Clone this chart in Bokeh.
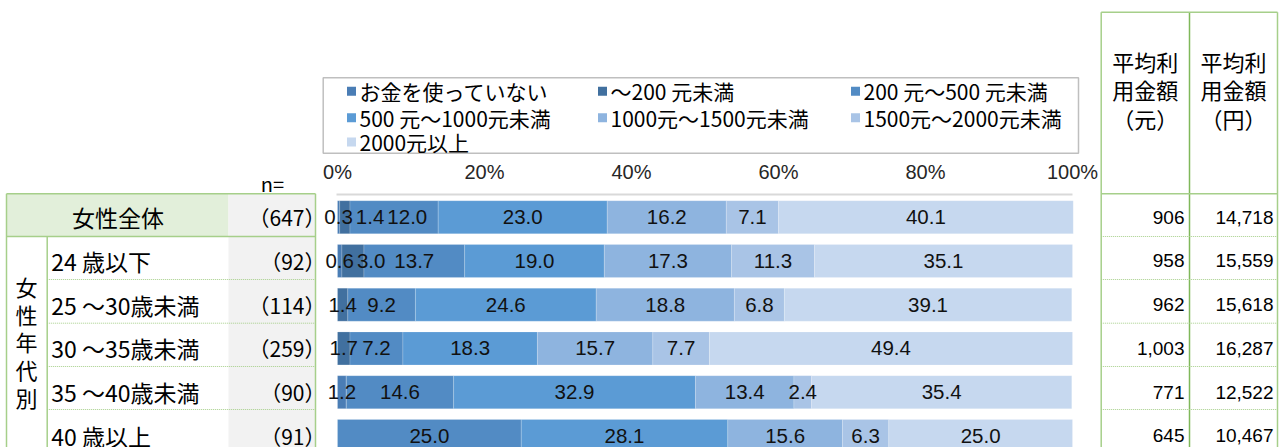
from bokeh.plotting import figure
from bokeh.models import Range1d, ColumnDataSource
from bokeh.core.properties import value
from bokeh.embed import file_html
from bokeh.resources import INLINE

# ---------------- data ----------------
segments = ["お金を使っていない", "～200 元未満", "200 元～500 元未満",
            "500 元～1000元未満", "1000元～1500元未満", "1500元～2000元未満", "2000元以上"]
groups = ["女性全体", "24 歳以下", "25 ～30歳未満", "30 ～35歳未満", "35 ～40歳未満", "40 歳以上"]
n_counts = ["（647）", "（92）", "（114）", "（259）", "（90）", "（91）"]
no_spend   = [0.3, 0.6, 0.0, 0.0, 1.2, 0.0]
under_200  = [1.4, 3.0, 1.4, 1.7, 0.0, 0.0]
r200_500   = [12.0, 13.7, 9.2, 7.2, 14.6, 25.0]
r500_1000  = [23.0, 19.0, 24.6, 18.3, 32.9, 28.1]
r1000_1500 = [16.2, 17.3, 18.8, 15.7, 13.4, 15.6]
r1500_2000 = [7.1, 11.3, 6.8, 7.7, 2.4, 6.3]
over_2000  = [40.1, 35.1, 39.1, 49.4, 35.4, 25.0]
avg_yuan = ["906", "958", "962", "1,003", "771", "645"]
avg_yen = ["14,718", "15,559", "15,618", "16,287", "12,522", "10,467"]
ticks = [0, 20, 40, 60, 80, 100]
tick_labels = ["0%", "20%", "40%", "60%", "80%", "100%"]
side_label = "女\n性\n年\n代\n別"
n_header = "n="
avg_headers = ["平均利\n用金額\n（元）", "平均利\n用金額\n（円）"]

series = [no_spend, under_200, r200_500, r500_1000, r1000_1500, r1500_2000, over_2000]
colors = ["#4a7db5", "#41709f", "#528bc4", "#5b9bd5", "#8eb4df", "#a9c4e6", "#c6d8ef"]
keys = ["s%d" % i for i in range(len(series))]

# ---------------- layout helpers (page pixels -> data units) ----------------
W, H = 1280, 447
K = 7.35      # px per percent
X0 = 337.0    # page x of 0%
S = 43.75     # px per row
Y0 = 216.7    # page y of first row centre


def dx(X):
    return (X - X0) / K


def dy(Y):
    return (Y - Y0) / S


JP = value("Noto Sans CJK JP")
LAT = value("Liberation Sans")

p = figure(width=W, height=H, output_backend="svg", toolbar_location=None,
           x_range=Range1d(dx(0), dx(W)), y_range=Range1d(dy(H), dy(0)),
           x_axis_location=None, y_axis_location=None, min_border=0)
p.outline_line_color = None
p.background_fill_color = "white"
p.xgrid.visible = False
p.ygrid.visible = False

rows = list(range(len(groups)))
src = ColumnDataSource(dict(row=rows, **{k: s for k, s in zip(keys, series)}))

# ---------------- left table ----------------
GREEN = "#a6cf8a"
BOT = 470
p.quad(left=dx(6), right=dx(228), top=dy(193.3), bottom=dy(236), fill_color="#e2efda", line_color=None)
p.quad(left=dx(228), right=dx(315), top=dy(193.3), bottom=dy(BOT), fill_color="#f2f2f2", line_color=None)
p.segment(x0=[dx(6), dx(6), dx(6), dx(315), dx(46.7)],
          y0=[dy(193.3), dy(236), dy(193.3), dy(193.3), dy(236)],
          x1=[dx(315), dx(315), dx(6), dx(315), dx(46.7)],
          y1=[dy(193.3), dy(236), dy(BOT), dy(BOT), dy(BOT)],
          line_color=GREEN, line_width=1.5)
sep_y = [279, 322.7, 366, 409]
p.segment(x0=[dx(46.7)] * 4, x1=[dx(315)] * 4, y0=[dy(v) for v in sep_y], y1=[dy(v) for v in sep_y],
          line_color=GREEN, line_width=1, line_dash="1 1")

p.text(x=[dx(117.5)], y=[0], text=[groups[0]], text_font=JP, text_font_size="23px",
       text_align="center", text_baseline="middle", text_color="black")
p.text(x=[dx(50.7)] * 5, y=rows[1:], text=groups[1:], text_font=JP, text_font_size="23px",
       text_align="left", text_baseline="middle", text_color="black")
p.text(x=[dx(325)] * len(rows), y=rows, text=n_counts, text_font=JP, text_font_size="21px",
       text_align="right", text_baseline="middle", text_color="black")
p.text(x=[dx(26)], y=[dy(341)], text=[side_label], text_font=JP, text_font_size="22px",
       text_align="center", text_baseline="middle", text_line_height=0.87, text_color="black")
p.text(x=[dx(272)], y=[dy(183)], text=[n_header], text_font=JP, text_font_size="20px",
       text_align="center", text_baseline="middle", text_color="black")

# ---------------- right table ----------------
RX = [1100.7, 1189.0, 1277.0]
p.segment(x0=[dx(x) for x in RX], x1=[dx(x) for x in RX], y0=[dy(11.7)] * 3, y1=[dy(BOT)] * 3,
          line_color=["#a6cf8a", "#7fb85a", "#a6cf8a"], line_width=1.5)
p.segment(x0=[dx(RX[0])] * 2, x1=[dx(RX[2])] * 2, y0=[dy(11.7), dy(193.3)], y1=[dy(11.7), dy(193.3)],
          line_color=GREEN, line_width=1.5)
rsep = [236, 279, 322.7, 366, 409]
p.segment(x0=[dx(RX[0])] * 5, x1=[dx(RX[2])] * 5, y0=[dy(v) for v in rsep], y1=[dy(v) for v in rsep],
          line_color=GREEN, line_width=1, line_dash="1 1")
p.text(x=[dx((RX[0] + RX[1]) / 2), dx((RX[1] + RX[2]) / 2)], y=[dy(89)] * 2, text=avg_headers,
       text_font=JP, text_font_size="22px", text_align="center", text_baseline="middle",
       text_line_height=0.9, text_color="black")
p.text(x=[dx(1184)] * len(rows), y=rows, text=avg_yuan, text_font=LAT, text_font_size="19px",
       text_align="right", text_baseline="middle", text_color="black")
p.text(x=[dx(1273)] * len(rows), y=rows, text=avg_yen, text_font=LAT, text_font_size="19px",
       text_align="right", text_baseline="middle", text_color="black")

# ---------------- legend ----------------
p.quad(left=dx(322.7), right=dx(1078), top=dy(77.3), bottom=dy(152.7), fill_color="white",
       line_color="#bfbfbf", line_width=1.5)
leg_cols = [351, 602, 855]
leg_rows = [90.7, 117.3, 141.5]
lx = [dx(leg_cols[i % 3]) for i in range(len(segments))]
ly = [dy(leg_rows[i // 3]) for i in range(len(segments))]
p.scatter(x=lx, y=ly, marker="square", size=9, fill_color=colors, line_color=None)
p.text(x=[x + 8 / K for x in lx], y=ly, text=segments, text_font=JP, text_font_size="21px",
       text_align="left", text_baseline="middle", text_color="black")

# ---------------- axis labels (top) ----------------
p.text(x=ticks, y=[dy(171.7)] * len(ticks), text=tick_labels, text_font=LAT, text_font_size="20px",
       text_align="center", text_baseline="middle", text_color="#262626")
p.segment(x0=[dx(336)], x1=[100], y0=[dy(194)], y1=[dy(194)], line_color="#d9d9d9", line_width=2)

# ---------------- stacked bars ----------------
p.hbar_stack(keys, y="row", height=33 / S, color=colors, source=src,
             line_color="white", line_width=0.6, line_alpha=0.3)

# ---------------- data labels ----------------
lab_x, lab_y, lab_t = [], [], []
FS = 20.5
gap = 3.0 / K
for i in rows:
    cum = 0.0
    last_end = -1e9
    for s in series:
        v = s[i]
        if v > 0:
            t = "%.1f" % v
            w = sum(0.278 if c == "." else 0.556 for c in t) * FS / K
            start = cum + v / 2 - w / 2
            if start < last_end + gap:
                start = last_end + gap
            last_end = start + w
            lab_x.append(start + w / 2)
            lab_y.append(i)
            lab_t.append(t)
        cum += v
p.text(x=lab_x, y=lab_y, text=lab_t, text_font=LAT, text_font_size="%.1fpx" % FS,
       text_align="center", text_baseline="middle", text_color="#111111")

open("out.html", "w").write(file_html(p, INLINE))
